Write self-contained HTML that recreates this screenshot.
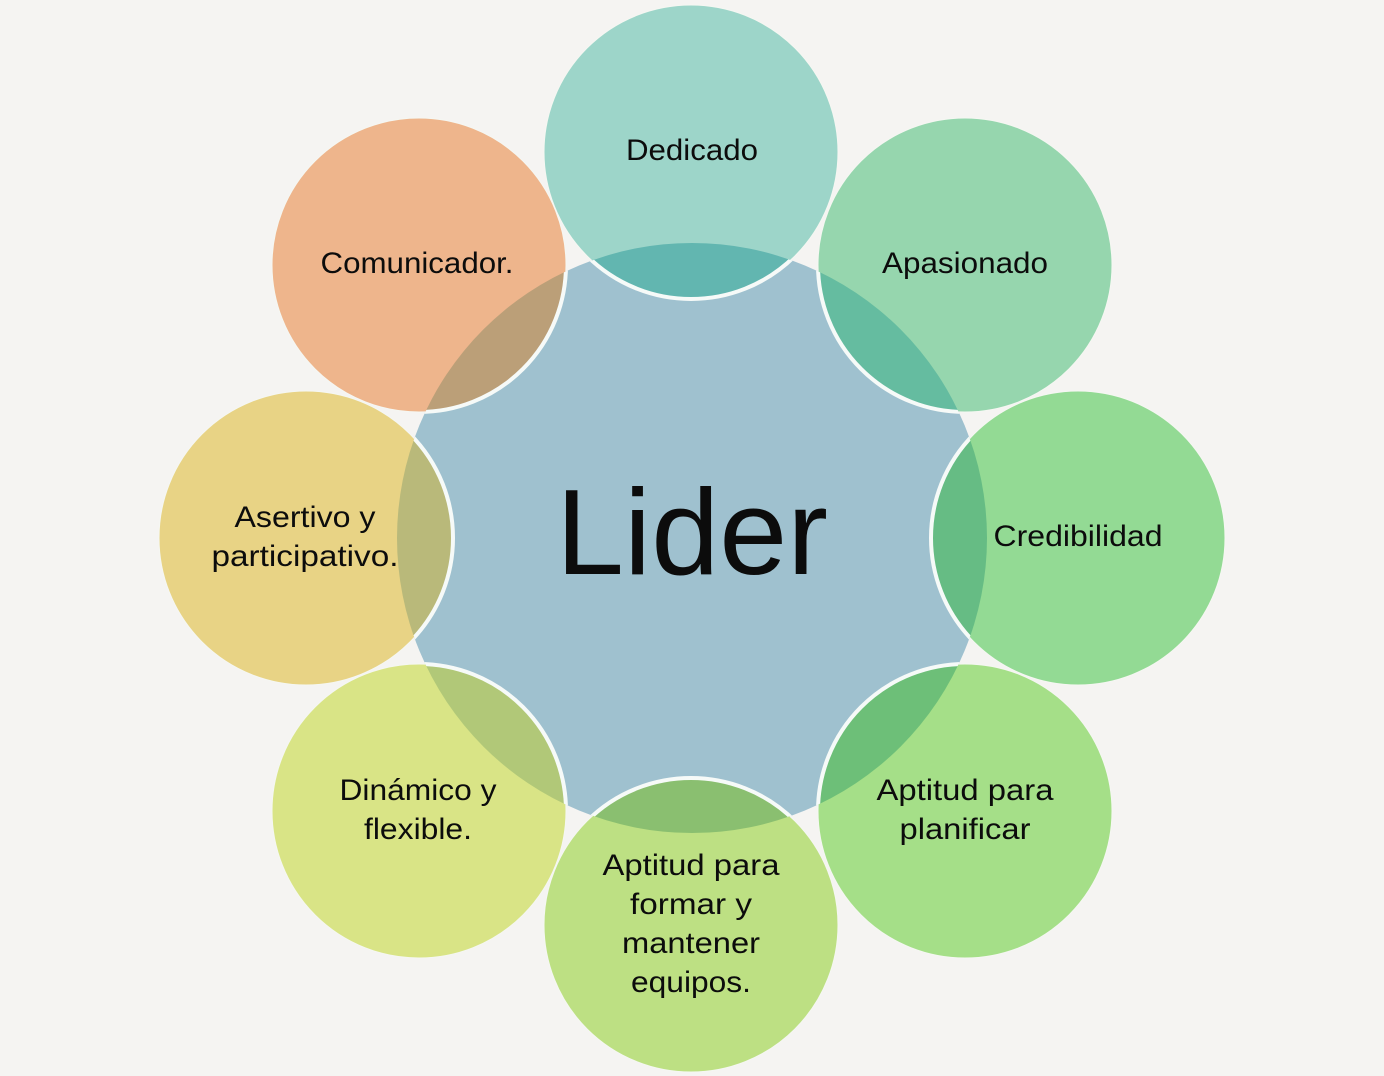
<!DOCTYPE html>
<html><head><meta charset="utf-8"><style>
html,body{margin:0;padding:0;background:#f5f4f2}
svg{display:block}
text{font-family:"Liberation Sans",Arial,sans-serif;fill:#0c0c0c;text-anchor:middle}
.t{font-size:29.5px}
</style></head><body>
<svg width="1384" height="1076" viewBox="0 0 1384 1076" xmlns="http://www.w3.org/2000/svg">
<defs><clipPath id="c"><circle cx="692" cy="538" r="295"/></clipPath></defs>
<rect width="1384" height="1076" fill="#f5f4f2"/>
<circle cx="692" cy="538" r="295" fill="#9fc1cf"/>

<g stroke="#f5f7f2" stroke-width="1">
<circle cx="691" cy="152" r="147" fill="#9dd5c9"/>
<circle cx="965" cy="265" r="147" fill="#96d6ae"/>
<circle cx="1078" cy="538" r="147" fill="#93da94"/>
<circle cx="965" cy="811" r="147" fill="#a5df88"/>
<circle cx="691" cy="925" r="147" fill="#bde083"/>
<circle cx="419" cy="811" r="147" fill="#d9e486"/>
<circle cx="306" cy="538" r="147" fill="#e8d385"/>
<circle cx="419" cy="265" r="147" fill="#eeb58c"/>
</g>
<g clip-path="url(#c)" stroke="#f6faf8" stroke-width="4">
<circle cx="691" cy="152" r="147" fill="#62b6b0"/>
<circle cx="965" cy="265" r="147" fill="#65bca0"/>
<circle cx="1078" cy="538" r="147" fill="#66bc84"/>
<circle cx="965" cy="811" r="147" fill="#6dbf78"/>
<circle cx="691" cy="925" r="147" fill="#8abf70"/>
<circle cx="419" cy="811" r="147" fill="#b1c878"/>
<circle cx="306" cy="538" r="147" fill="#b9b97a"/>
<circle cx="419" cy="265" r="147" fill="#bb9f78"/>
</g>

<text x="692" y="574" font-size="122" textLength="272" lengthAdjust="spacingAndGlyphs">Lider</text>

<text class="t" x="692" y="160" textLength="132" lengthAdjust="spacingAndGlyphs">Dedicado</text>
<text class="t" x="965" y="273" textLength="166" lengthAdjust="spacingAndGlyphs">Apasionado</text>
<text class="t" x="1078" y="546" textLength="169" lengthAdjust="spacingAndGlyphs">Credibilidad</text>
<text class="t" x="965" y="800" textLength="177" lengthAdjust="spacingAndGlyphs">Aptitud para</text>
<text class="t" x="965" y="839" textLength="131" lengthAdjust="spacingAndGlyphs">planificar</text>
<text class="t" x="691" y="875" textLength="177" lengthAdjust="spacingAndGlyphs">Aptitud para</text>
<text class="t" x="691" y="914" textLength="122" lengthAdjust="spacingAndGlyphs">formar y</text>
<text class="t" x="691" y="953" textLength="138" lengthAdjust="spacingAndGlyphs">mantener</text>
<text class="t" x="691" y="992" textLength="120" lengthAdjust="spacingAndGlyphs">equipos.</text>
<text class="t" x="418" y="800" textLength="157" lengthAdjust="spacingAndGlyphs">Dinámico y</text>
<text class="t" x="418" y="839" textLength="108" lengthAdjust="spacingAndGlyphs">flexible.</text>
<text class="t" x="305" y="527" textLength="141" lengthAdjust="spacingAndGlyphs">Asertivo y</text>
<text class="t" x="305" y="566" textLength="187" lengthAdjust="spacingAndGlyphs">participativo.</text>
<text class="t" x="417" y="273" textLength="193" lengthAdjust="spacingAndGlyphs">Comunicador.</text>
</svg>
</body></html>
